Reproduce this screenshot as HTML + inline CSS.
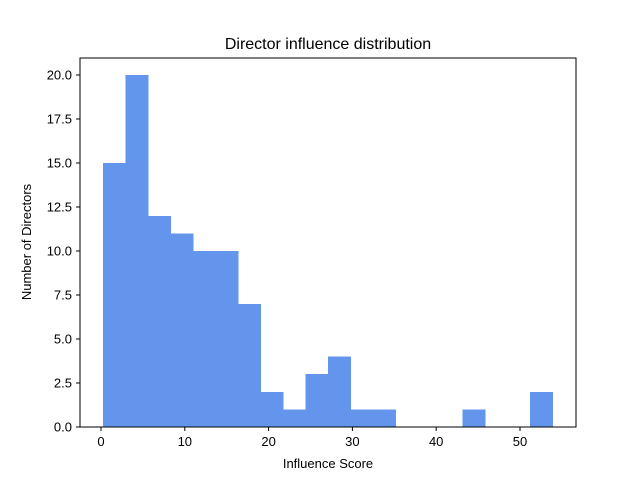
<!DOCTYPE html>
<html><head><meta charset="utf-8"><style>body{margin:0;background:#fff}svg{display:block;font-family:"Liberation Sans","DejaVu Sans",sans-serif}</style></head>
<body>
<svg id="chart" width="640" height="480">
<rect x="0" y="0" width="640" height="480" fill="#fff"/>
<text x="328" y="49" text-anchor="middle" font-size="16">Director influence distribution</text>
<g id="bars" shape-rendering="crispEdges"></g><g id="xt"></g><g id="yt"></g>
<rect x="80" y="58" width="496" height="369" fill="none" stroke="#000" stroke-width="1"/>
<text x="328" y="468" text-anchor="middle" font-size="13">Influence Score</text>
<text transform="translate(31,242) rotate(-90)" text-anchor="middle" font-size="13">Number of Directors</text>
</svg>
<script>
const counts=[15,20,12,11,10,10,7,2,1,3,4,1,1,0,0,0,1,0,0,2];
const binStart=0.24, binEnd=53.9;
const xTicks=[0,10,20,30,40,50];
const yTicks=[0,2.5,5,7.5,10,12.5,15,17.5,20];
const yLabels=["0.0","2.5","5.0","7.5","10.0","12.5","15.0","17.5","20.0"];
const NS="http://www.w3.org/2000/svg";
const xs=v=>101+v*8.38, ys=v=>427-v*17.6;
const w=(binEnd-binStart)/counts.length;
const bars=document.getElementById('bars');
counts.forEach((c,i)=>{if(!c)return;const r=document.createElementNS(NS,'rect');
const x0=xs(binStart+i*w),x1=xs(binStart+(i+1)*w);
r.setAttribute('x',x0);r.setAttribute('width',x1-x0+0.5);r.setAttribute('y',ys(c));r.setAttribute('height',ys(0)-ys(c));r.setAttribute('fill','#6495ed');


bars.appendChild(r);});
const xt=document.getElementById('xt');
xTicks.forEach(t=>{const x=xs(t);const l=document.createElementNS(NS,'line');l.setAttribute('x1',x);l.setAttribute('x2',x);l.setAttribute('y1',427);l.setAttribute('y2',431);l.setAttribute('stroke','#000');


xt.appendChild(l);const s=document.createElementNS(NS,'text');s.setAttribute('x',x);s.setAttribute('y',446);s.setAttribute('text-anchor','middle');s.setAttribute('font-size','13');s.textContent=t;


xt.appendChild(s);});
const yt=document.getElementById('yt');
yTicks.forEach((t,i)=>{const y=ys(t);const l=document.createElementNS(NS,'line');l.setAttribute('x1',76);l.setAttribute('x2',80);l.setAttribute('y1',y);l.setAttribute('y2',y);l.setAttribute('stroke','#000');


yt.appendChild(l);const s=document.createElementNS(NS,'text');s.setAttribute('x',72);s.setAttribute('y',y+4.5);s.setAttribute('text-anchor','end');s.setAttribute('font-size','13');s.textContent=yLabels[i];


yt.appendChild(s);});
</script>
</body></html>
